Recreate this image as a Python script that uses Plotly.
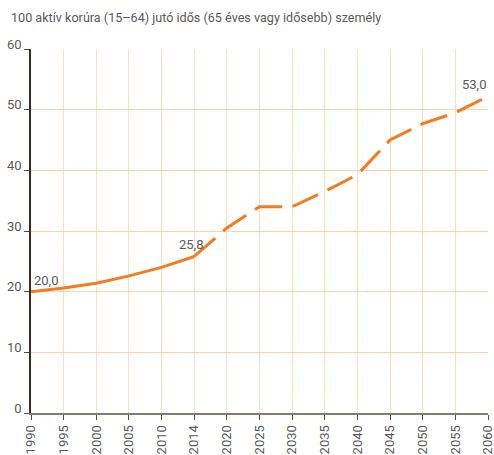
import plotly.graph_objects as go

title_text = "100 aktív korúra (15–64) jutó idős (65 éves vagy idősebb) személy"
years = ["1990", "1995", "2000", "2005", "2010", "2014", "2020", "2025",
         "2030", "2035", "2040", "2045", "2050", "2055", "2060"]
actual_years = years[:6]
actual_values = [20.0, 20.6, 21.4, 22.6, 24.0, 25.8]
forecast_years = years[5:]
forecast_values = [25.8, 30.5, 34.0, 34.0, 36.5, 39.3, 45.0, 47.7, 49.5, 52.2]
y_ticks = [0, 10, 20, 30, 40, 50, 60]
label_points = ["1990", "2014", "2060"]
label_values = [20.0, 25.8, 52.2]
label_texts = ["20,0", "25,8", "53,0"]

LINE = "#F47B20"
TXT = "#5a5a5a"
FONT = "Roboto"

fig = go.Figure()
fig.add_trace(go.Scatter(x=actual_years, y=actual_values, mode="lines",
                         line=dict(color=LINE, width=3), hoverinfo="skip",
                         showlegend=False))
fig.add_trace(go.Scatter(x=forecast_years, y=forecast_values, mode="lines",
                         line=dict(color=LINE, width=3, dash="28px,10.5px"),
                         hoverinfo="skip", showlegend=False))

anchors = [("left", 1), ("center", -3), ("right", 0)]
for (xa, xs), px, pv, t in zip(anchors, label_points, label_values, label_texts):
    fig.add_annotation(x=years.index(px), y=pv, xref="x", yref="y", text=t,
                       showarrow=False, xanchor=xa, yanchor="bottom",
                       xshift=xs, yshift=2,
                       font=dict(family=FONT, size=13, color=TXT))

fig.add_annotation(x=0, y=1, xref="paper", yref="paper", xanchor="left",
                   yanchor="bottom", text=title_text, showarrow=False,
                   xshift=-22, yshift=22,
                   font=dict(family=FONT, size=12.6, color=TXT))

fig.update_xaxes(type="category", categoryorder="array", categoryarray=years,
                 range=[0, len(years) - 1],
                 showgrid=True, gridcolor="#FDDDBA", gridwidth=1.3,
                 showline=True, linecolor="#8A7A6C", linewidth=2,
                 ticks="outside", ticklen=5, tickcolor="#5a4a3e", tickwidth=1.3,
                 tickangle=-90, tickfont=dict(family=FONT, size=13, color=TXT),
                 automargin=False, zeroline=False, fixedrange=True)
fig.update_yaxes(range=[0, 60], tickvals=y_ticks,
                 showgrid=True, gridcolor="#FDD3A6", gridwidth=1.3,
                 showline=True, linecolor="#3B2C22", linewidth=1.5,
                 ticks="outside", ticklen=5, tickcolor="#5a4a3e", tickwidth=1.3,
                 ticklabelshift=-5, ticklabelstandoff=0,
                 tickfont=dict(family=FONT, size=13, color=TXT),
                 automargin=False, zeroline=False, fixedrange=True)

fig.update_layout(width=494, height=455,
                  margin=dict(l=31, r=6, t=49, b=42),
                  paper_bgcolor="white", plot_bgcolor="white",
                  font=dict(family=FONT, size=13, color=TXT))

fig.write_html("out.html", config={"displayModeBar": False},
               post_script="document.body.style.margin='0px';document.body.style.overflow='hidden';")
